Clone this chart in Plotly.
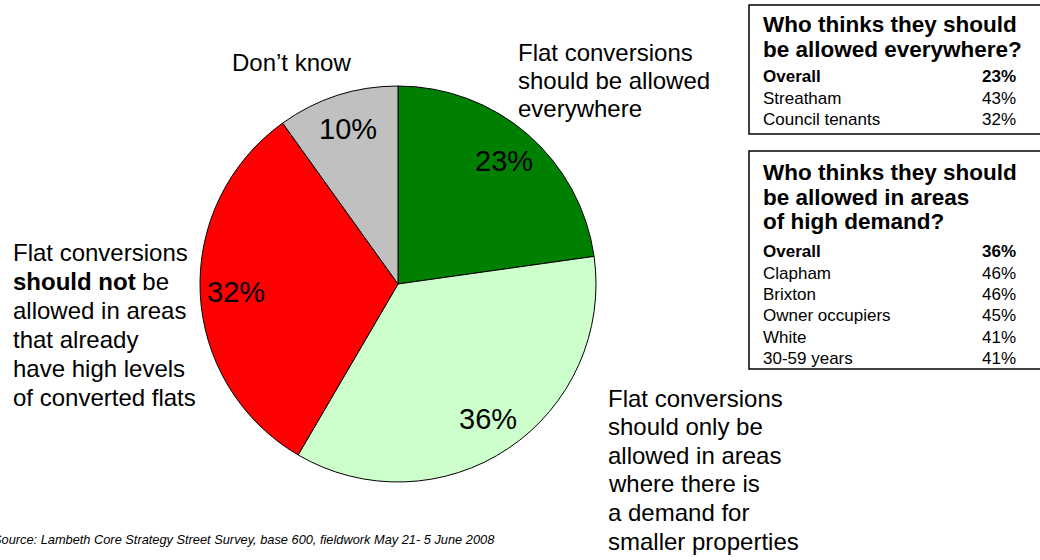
import math
import plotly.graph_objects as go

# Survey answers (percent of respondents)
slice_names = [
    "Should be allowed everywhere",
    "Only in areas of demand for smaller properties",
    "Not in areas with high levels of converted flats",
    "Don't know",
]
slice_values = [23, 36, 32, 10]
slice_colors = ["#008000", "#CCFFCC", "#FF0000", "#C0C0C0"]

# Breakdown tables
everywhere_title = ["Who thinks they should", "be allowed everywhere?"]
everywhere_groups = ["Overall", "Streatham", "Council tenants"]
everywhere_values = [23, 43, 32]

demand_title = ["Who thinks they should", "be allowed in areas", "of high demand?"]
demand_groups = ["Overall", "Clapham", "Brixton", "Owner occupiers", "White", "30-59 years"]
demand_values = [36, 46, 46, 45, 41, 41]

source_note = "Source: Lambeth Core Strategy Street Survey, base 600, fieldwork May 21- 5 June 2008"

W, H = 1040, 560
FONT = "Liberation Sans, Arial, sans-serif"

# pie placement in pixels
cx, cy, R = 398, 284, 198


def px(x):
    return x / W


def py(y):
    return 1 - y / H


fig = go.Figure()
fig.add_trace(go.Pie(
    labels=slice_names,
    values=slice_values,
    marker=dict(colors=slice_colors, line=dict(color="#000000", width=1)),
    sort=False,
    direction="clockwise",
    rotation=0,
    textinfo="none",
    hoverinfo="label+value",
    showlegend=False,
    domain=dict(x=[px(cx - R), px(cx + R)], y=[py(cy + R), py(cy - R)]),
))

annotations = []


def add_text(text, x, y, size, anchor="left", bold=False, italic=False):
    if bold:
        text = f"<b>{text}</b>"
    if italic:
        text = f"<i>{text}</i>"
    annotations.append(dict(
        text=text, x=px(x), y=py(y), xref="paper", yref="paper",
        xanchor=anchor, yanchor="middle", showarrow=False,
        font=dict(family=FONT, size=size, color="#000000"),
    ))


def add_block(lines, x, y0, step, size, anchor="left"):
    for i, line in enumerate(lines):
        add_text(line, x, y0 + i * step, size, anchor)


# percentage labels inside the slices, placed along each slice's mid-angle
total = sum(slice_values)
cum = 0
for v in slice_values:
    mid = (cum + v / 2) / total * 2 * math.pi
    cum += v
    lx = cx + 0.82 * R * math.sin(mid)
    ly = cy - 0.82 * R * math.cos(mid)
    add_text(f"{v}%", lx, ly, 29, anchor="center")

# slice descriptions
add_text("Don\u2019t know", 291, 62, 24, anchor="center")
add_block(["Flat conversions", "should be allowed", "everywhere"], 516, 52, 28.3, 24)
add_block(["Flat conversions", "<b>should not</b> be", "allowed in areas",
           "that already", "have high levels", "of converted flats"], 11, 253, 28.9, 24)
add_block(["Flat conversions", "should only be", "allowed in areas",
           "where there is", "a demand for", "smaller properties"], 606, 398, 28.6, 24)

# source line (runs off the left edge)
add_text(source_note, 497, 539, 12.8, anchor="right", italic=True)

shapes = []


def add_table(title, groups, values, top, bottom, title_y0, title_step, row_y0):
    shapes.append(dict(type="rect", xref="paper", yref="paper",
                       x0=px(749), x1=px(1046), y0=py(bottom), y1=py(top),
                       line=dict(color="#000000", width=1.5), fillcolor="rgba(0,0,0,0)"))
    for i, line in enumerate(title):
        add_text(line, 761, title_y0 + i * title_step, 22.5, bold=True)
    for i, (g, v) in enumerate(zip(groups, values)):
        y = row_y0 + i * 21.3
        add_text(g, 761, y, 17, bold=(i == 0))
        add_text(f"{v}%", 1018, y, 17, anchor="right", bold=(i == 0))


add_table(everywhere_title, everywhere_groups, everywhere_values, 5, 134, 25, 24, 77)
add_table(demand_title, demand_groups, demand_values, 151, 369, 172, 25, 252)

fig.update_layout(
    width=W, height=H,
    margin=dict(l=0, r=0, t=0, b=0),
    paper_bgcolor="#FFFFFF",
    plot_bgcolor="#FFFFFF",
    annotations=annotations,
    shapes=shapes,
)

fig.write_html("out.html")
